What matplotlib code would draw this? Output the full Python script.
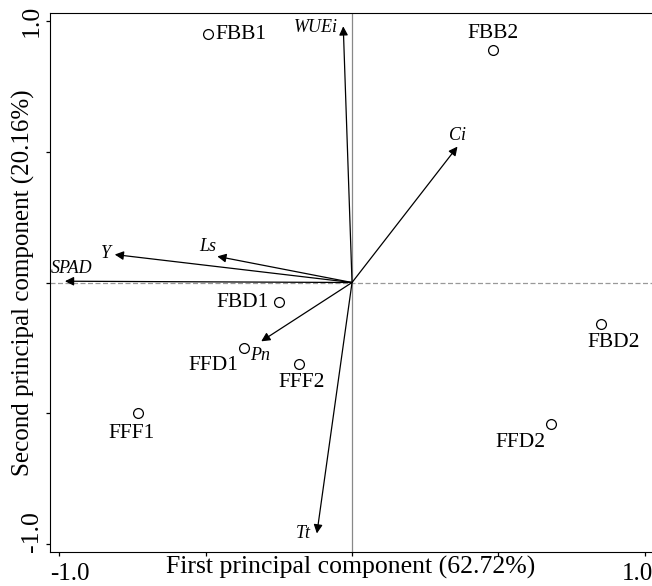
import matplotlib
matplotlib.use("Agg")
import matplotlib.pyplot as plt
from matplotlib.transforms import ScaledTranslation

plt.rcParams['font.family'] = ['Liberation Serif', 'DejaVu Serif']

# sample scores
samples = ['FBB1', 'FBB2', 'FBD1', 'FFD1', 'FFF2', 'FFF1', 'FBD2', 'FFD2']
sample_x = [-0.49, 0.48, -0.25, -0.37, -0.18, -0.73, 0.85, 0.68]
sample_y = [0.95, 0.89, -0.076, -0.25, -0.31, -0.50, -0.16, -0.54]

# variable loadings
variables = ['WUEi', 'Ci', 'Y', 'Ls', 'SPAD', 'Pn', 'Tt']
var_x = [-0.03, 0.36, -0.81, -0.46, -0.98, -0.31, -0.12]
var_y = [0.98, 0.52, 0.107, 0.10, 0.005, -0.225, -0.96]

# label offsets (points) and alignment
sample_lab = {
    'FBB1': ((5, 0), 'left', 'center'),
    'FBB2': ((0, 5), 'center', 'bottom'),
    'FBD1': ((-7, 0), 'right', 'center'),
    'FFD1': ((-4, -6), 'right', 'top'),
    'FFF2': ((2, -7), 'center', 'top'),
    'FFF1': ((-5, -8), 'center', 'top'),
    'FBD2': ((9, -6), 'center', 'top'),
    'FFD2': ((-4, -7), 'right', 'top'),
}
var_lab = {
    'WUEi': ((-4, -1), 'right', 'center'),
    'Ci': ((0, 2), 'center', 'bottom'),
    'Y': ((-3, 1), 'right', 'center'),
    'Ls': ((-1, 1), 'right', 'bottom'),
    'SPAD': ((5, 3), 'center', 'bottom'),
    'Pn': ((-8, -4), 'left', 'top'),
    'Tt': ((-4, 0), 'right', 'center'),
}

fig = plt.figure(figsize=(6.52, 5.86), dpi=100)
ax = fig.add_axes([0.0767, 0.0580, 0.9233, 0.9198])

ax.axvline(0, color='#888888', lw=0.9, zorder=1)
ax.axhline(0, color='#999999', lw=0.9, ls=(0, (4, 2)), zorder=1)

for name, x, y in zip(variables, var_x, var_y):
    ax.annotate('', xy=(x, y), xytext=(0, 0),
                arrowprops=dict(arrowstyle='-|>', color='black', lw=0.9,
                                mutation_scale=13, shrinkA=0, shrinkB=0))
    off, ha, va = var_lab[name]
    ax.annotate(name, (x, y), xytext=off, textcoords='offset points',
                ha=ha, va=va, fontsize=13, style='italic')

ax.scatter(sample_x, sample_y, s=50, facecolors='white', edgecolors='black',
           linewidths=0.9, zorder=3)
for name, x, y in zip(samples, sample_x, sample_y):
    off, ha, va = sample_lab[name]
    ax.annotate(name, (x, y), xytext=off, textcoords='offset points',
                ha=ha, va=va, fontsize=15.5)

ax.set_xlim(-1.031, 1.024)
ax.set_ylim(-1.031, 1.031)
ax.set_xticks([-1, -0.5, 0, 0.5, 1])
ax.set_xticklabels(['-1.0', '', '', '', '1.0'])
ax.set_yticks([-1, -0.5, 0, 0.5, 1])
ax.set_yticklabels(['-1.0', '', '', '', '1.0'], rotation=90, va='center')
ax.tick_params(labelsize=18.5, length=3, width=0.9, direction='out', pad=2)
ax.tick_params(axis='x', labelsize=18, pad=5)
ax.spines['right'].set_visible(False)

xl = ax.get_xticklabels()
xl[0].set_ha('left')
xl[0].set_transform(xl[0].get_transform() + ScaledTranslation(-9 / 100, 0, fig.dpi_scale_trans))
xl[-1].set_ha('right')
xl[-1].set_transform(xl[-1].get_transform() + ScaledTranslation(8 / 100, 0, fig.dpi_scale_trans))
yl = ax.get_yticklabels()
yl[0].set_transform(yl[0].get_transform() + ScaledTranslation(0, 12 / 100, fig.dpi_scale_trans))

ax.set_xlabel('First principal component (62.72%)', fontsize=18.5, labelpad=-21)
ax.set_ylabel('Second principal component (20.16%)', fontsize=18, labelpad=-10)

fig.savefig('out.png', dpi=100)
